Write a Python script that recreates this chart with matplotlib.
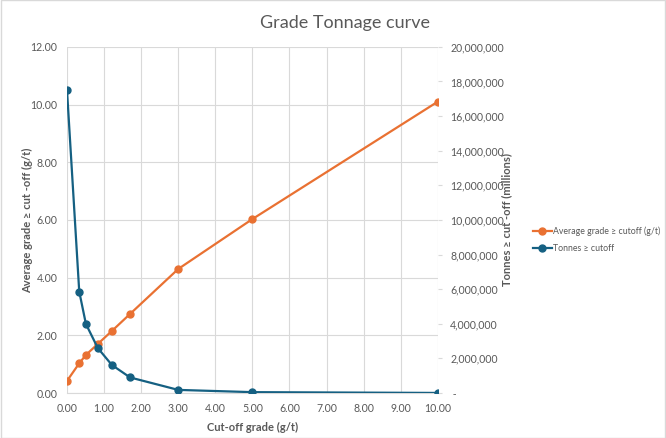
import matplotlib.pyplot as plt
from matplotlib.ticker import FuncFormatter, MultipleLocator

# data
cutoff = [0.0, 0.33, 0.51, 0.83, 1.21, 1.70, 3.0, 5.0, 10.0]
avg_grade = [0.42, 1.03, 1.32, 1.70, 2.15, 2.74, 4.30, 6.03, 10.10]
tonnes = [17500000, 5860000, 3990000, 2600000, 1620000, 900000, 180000, 50000, 5000]

orange = '#E97132'
blue = '#156082'
grey_txt = '#595959'
grid_col = '#D9D9D9'

plt.rcParams['font.family'] = ['Lato', 'DejaVu Sans']

fig = plt.figure(figsize=(6.66, 4.38), dpi=100)
ax = fig.add_axes([0.1006, 0.1027, 0.5568, 0.7904])
ax2 = ax.twinx()

l1, = ax.plot(cutoff, avg_grade, color=orange, lw=1.6, marker='o', ms=5,
              label='Average grade \u2265 cutoff (g/t)')
l2, = ax2.plot(cutoff, tonnes, color=blue, lw=1.6, marker='o', ms=5,
               label='Tonnes \u2265 cutoff')

ax.set_xlim(0, 10)
ax.set_ylim(0, 12)
ax2.set_ylim(0, 20000000)
ax.xaxis.set_major_locator(MultipleLocator(1))
ax.yaxis.set_major_locator(MultipleLocator(2))
ax2.yaxis.set_major_locator(MultipleLocator(2000000))

ax.xaxis.set_major_formatter(FuncFormatter(lambda v, p: f'{v:.2f}'))
ax.yaxis.set_major_formatter(FuncFormatter(lambda v, p: f'{v:.2f}'))
ax2.yaxis.set_major_formatter(FuncFormatter(lambda v, p: ' -' if v == 0 else f'{v:,.0f}'))

ax.grid(True, color=grid_col, lw=0.8)
ax.set_axisbelow(True)
for a in (ax, ax2):
    for s in a.spines.values():
        s.set_visible(False)
ax.spines['bottom'].set_visible(True)
ax.spines['bottom'].set_color(grid_col)

ax.tick_params(axis='both', length=0, labelsize=7.6, colors=grey_txt, pad=7)
ax2.tick_params(axis='y', length=3, color=grid_col, labelsize=7.6, colors=grey_txt, pad=6)

ax.set_xlabel('Cut-off grade (g/t)', fontsize=8, color=grey_txt, fontweight='bold', labelpad=6)
ax.set_ylabel('Average grade \u2265 cut -off (g/t)', fontsize=8, color=grey_txt,
              fontweight='bold')
ax2.set_ylabel('Tonnes \u2265 cut -off (millions)', fontsize=8, color=grey_txt,
               fontweight='bold')
ax.yaxis.set_label_coords(-0.092, 0.5)
ax2.yaxis.set_label_coords(1.172, 0.5)

fig.suptitle('Grade Tonnage curve', x=0.518, y=0.965, fontsize=13, color=grey_txt)

fig.legend(handles=[l1, l2], loc='upper left', bbox_to_anchor=(0.8, 0.482),
           frameon=False, labelcolor=grey_txt, handlelength=2.2, fontsize=6.3,
           handletextpad=0.15, borderaxespad=0, borderpad=0, labelspacing=0.9)

fig.patches.append(plt.Rectangle((0.001, 0.001), 0.998, 0.998, transform=fig.transFigure,
                                 fill=False, edgecolor='#D9D9D9', lw=1))

fig.savefig('out.png', dpi=100)
